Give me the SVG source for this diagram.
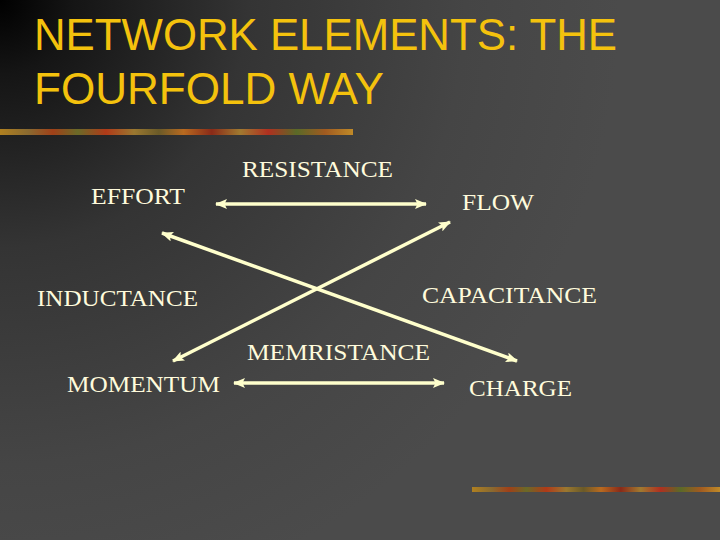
<svg xmlns="http://www.w3.org/2000/svg" width="720" height="540" viewBox="0 0 720 540">
<defs>
<radialGradient id="bg" cx="0" cy="0" r="620" gradientUnits="userSpaceOnUse">
<stop offset="0" stop-color="#000"/>
<stop offset="0.12" stop-color="#151515"/>
<stop offset="0.4" stop-color="#343434"/>
<stop offset="0.75" stop-color="#454545"/>
<stop offset="1" stop-color="#4b4b4b"/>
</radialGradient>
<linearGradient id="stripe" x1="0" y1="0" x2="1" y2="0">
<stop offset="0" stop-color="#b08020"/>
<stop offset="0.08" stop-color="#8a6a30"/>
<stop offset="0.15" stop-color="#a04018"/>
<stop offset="0.22" stop-color="#6a6a28"/>
<stop offset="0.3" stop-color="#b03a18"/>
<stop offset="0.38" stop-color="#9a7830"/>
<stop offset="0.45" stop-color="#6a5a28"/>
<stop offset="0.52" stop-color="#b86a20"/>
<stop offset="0.6" stop-color="#8a2a18"/>
<stop offset="0.68" stop-color="#a07a30"/>
<stop offset="0.76" stop-color="#b03020"/>
<stop offset="0.84" stop-color="#5a6a28"/>
<stop offset="0.92" stop-color="#a05a20"/>
<stop offset="1" stop-color="#c08a28"/>
</linearGradient>
<marker id="ah" viewBox="0 0 12 10" refX="11" refY="5" markerWidth="12" markerHeight="10" markerUnits="userSpaceOnUse" orient="auto-start-reverse">
<path d="M0,0 L12,5 L0,10 L2.5,5 Z" fill="#ffffcc"/>
</marker>
</defs>
<style>
.title{font-family:"Liberation Sans",Arial,sans-serif;font-size:45px;fill:#f4c20d}
.lbl{font-family:"Liberation Serif","Times New Roman",serif;font-size:24px;fill:#fffbdc}
.conn{stroke:#ffffcc;stroke-width:3.5;fill:none;marker-start:url(#ah);marker-end:url(#ah)}
</style>
<rect width="720" height="540" fill="url(#bg)"/>
<text class="title" x="34" y="50" textLength="583" lengthAdjust="spacingAndGlyphs">NETWORK ELEMENTS: THE</text>
<text class="title" x="34" y="104" textLength="350" lengthAdjust="spacingAndGlyphs">FOURFOLD WAY</text>
<rect x="0" y="129" width="353" height="6" fill="url(#stripe)"/>
<rect x="472" y="487" width="248" height="5" fill="url(#stripe)"/>
<g id="connectors">
<line class="conn" x1="216" y1="204" x2="426" y2="204"/>
<line class="conn" x1="234" y1="383" x2="444" y2="383"/>
<line class="conn" x1="162" y1="233" x2="517" y2="361"/>
<line class="conn" x1="450" y1="222" x2="173" y2="361"/>
</g>
<g id="resistance"><text class="lbl" x="242" y="177" textLength="151" lengthAdjust="spacingAndGlyphs">RESISTANCE</text></g>
<g id="effort"><text class="lbl" x="91" y="204" textLength="94" lengthAdjust="spacingAndGlyphs">EFFORT</text></g>
<g id="flow"><text class="lbl" x="462" y="210" textLength="72" lengthAdjust="spacingAndGlyphs">FLOW</text></g>
<g id="inductance"><text class="lbl" x="37" y="306" textLength="161" lengthAdjust="spacingAndGlyphs">INDUCTANCE</text></g>
<g id="capacitance"><text class="lbl" x="422" y="303" textLength="175" lengthAdjust="spacingAndGlyphs">CAPACITANCE</text></g>
<g id="memristance"><text class="lbl" x="247" y="360" textLength="183" lengthAdjust="spacingAndGlyphs">MEMRISTANCE</text></g>
<g id="momentum"><text class="lbl" x="67" y="392" textLength="153" lengthAdjust="spacingAndGlyphs">MOMENTUM</text></g>
<g id="charge"><text class="lbl" x="469" y="396" textLength="103" lengthAdjust="spacingAndGlyphs">CHARGE</text></g>
</svg>
